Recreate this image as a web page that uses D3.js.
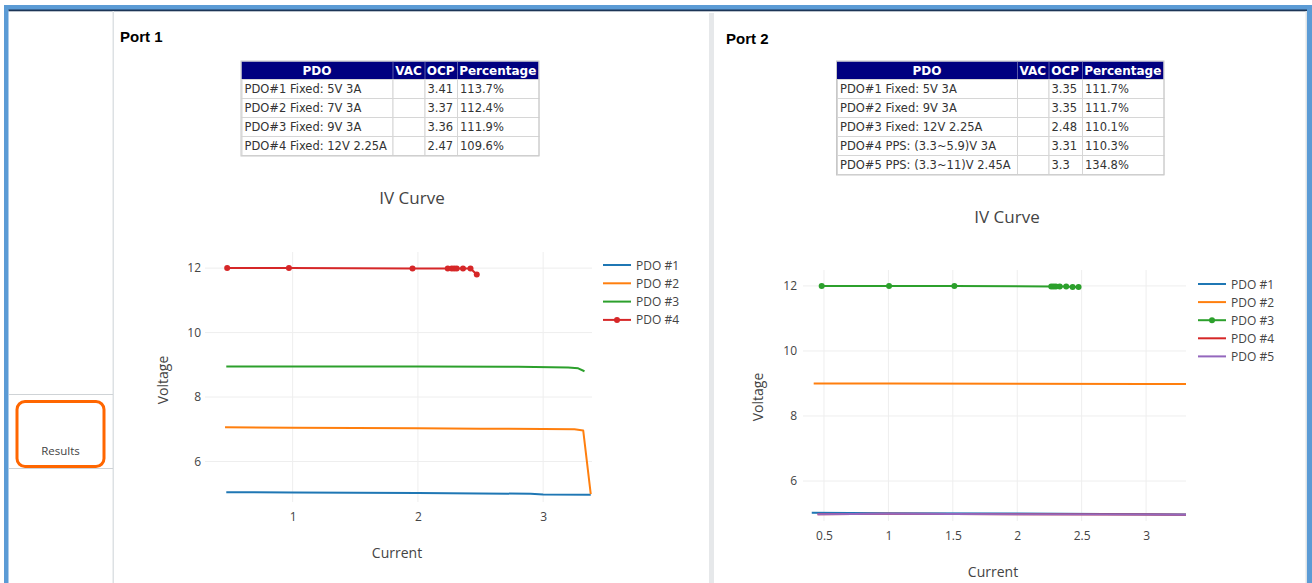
<!DOCTYPE html>
<html><head><meta charset="utf-8">
<script src="https://cdn.jsdelivr.net/npm/d3@7"></script>
<style>html,body{margin:0;padding:0;background:#fff;overflow:hidden}</style>
</head><body>
<svg id="c" width="1312" height="583"></svg>
<script>
// ---------- DATA ----------
const tableHeaders = ["PDO", "VAC", "OCP", "Percentage"];
const port1Pdo = ["PDO#1 Fixed: 5V 3A", "PDO#2 Fixed: 7V 3A", "PDO#3 Fixed: 9V 3A", "PDO#4 Fixed: 12V 2.25A"];
const port1Vac = ["", "", "", ""];
const port1Ocp = ["3.41", "3.37", "3.36", "2.47"];
const port1Pct = ["113.7%", "112.4%", "111.9%", "109.6%"];
const port2Pdo = ["PDO#1 Fixed: 5V 3A", "PDO#2 Fixed: 9V 3A", "PDO#3 Fixed: 12V 2.25A", "PDO#4 PPS: (3.3~5.9)V 3A", "PDO#5 PPS: (3.3~11)V 2.45A"];
const port2Vac = ["", "", "", "", ""];
const port2Ocp = ["3.35", "3.35", "2.48", "3.31", "3.3"];
const port2Pct = ["111.7%", "111.7%", "110.1%", "110.3%", "134.8%"];

const seriesNames1 = ["PDO #1", "PDO #2", "PDO #3", "PDO #4"];
const seriesNames2 = ["PDO #1", "PDO #2", "PDO #3", "PDO #4", "PDO #5"];
const colors = ["#1f77b4", "#ff7f0e", "#2ca02c", "#d62728", "#9467bd"];

// Port 1 curves (Current A, Voltage V)
const p1s1I = [0.47, 1.0, 2.0, 2.9, 3.0, 3.38];
const p1s1V = [5.05, 5.04, 5.02, 5.0, 4.98, 4.97];
const p1s2I = [0.46, 1.0, 2.0, 2.5, 3.0, 3.25, 3.32, 3.38];
const p1s2V = [7.06, 7.05, 7.03, 7.02, 7.01, 7.0, 6.96, 4.99];
const p1s3I = [0.47, 1.0, 2.0, 2.8, 3.2, 3.28, 3.33];
const p1s3V = [8.95, 8.95, 8.95, 8.94, 8.92, 8.89, 8.8];
const p1s4I = [0.477, 0.97, 1.957, 2.238, 2.27, 2.29, 2.31, 2.36, 2.42, 2.47];
const p1s4V = [12.0, 12.0, 11.99, 11.99, 11.99, 11.99, 11.99, 11.99, 11.99, 11.8];

// Port 2 curves
const p2s1I = [0.405, 1.0, 2.0, 3.0, 3.31];
const p2s1V = [5.02, 5.01, 5.0, 4.98, 4.97];
const p2s2I = [0.42, 1.0, 2.0, 3.0, 3.31];
const p2s2V = [9.0, 9.0, 8.99, 8.98, 8.98];
const p2s3I = [0.482, 1.005, 1.512, 2.264, 2.282, 2.30, 2.33, 2.38, 2.43, 2.476];
const p2s3V = [12.0, 12.0, 12.0, 11.98, 11.98, 11.98, 11.98, 11.98, 11.97, 11.97];
const p2s4I = [0.45, 1.0, 2.0, 3.0, 3.31];
const p2s4V = [4.98, 4.99, 4.98, 4.97, 4.96];
const p2s5I = [0.45, 1.0, 2.0, 3.0, 3.31];
const p2s5V = [4.98, 4.99, 4.98, 4.97, 4.96];

const p1XTicks = [1, 2, 3];
const p1YTicks = [6, 8, 10, 12];
const p2XTicks = [0.5, 1, 1.5, 2, 2.5, 3];
const p2YTicks = [6, 8, 10, 12];

// ---------- FRAME ----------
const svg = d3.select("#c");
const FONT = "'Open Sans', sans-serif";
svg.append("rect").attr("x", 4).attr("y", 5).attr("width", 1308).attr("height", 578).attr("fill", "#5b9bd5");
svg.append("rect").attr("x", 8.5).attr("y", 10).attr("width", 1298.5).attr("height", 573).attr("fill", "#fff");
svg.append("rect").attr("x", 8.5).attr("y", 9.5).attr("width", 1298.5).attr("height", 1.8).attr("fill", "#1c3556");
svg.append("rect").attr("x", 1305.5).attr("y", 11).attr("width", 1.5).attr("height", 572).attr("fill", "#dfe3e6");
// sidebar
svg.append("rect").attr("x", 112.5).attr("y", 11).attr("width", 1.5).attr("height", 572).attr("fill", "#dde1e4");
svg.append("line").attr("x1", 9).attr("x2", 113).attr("y1", 394.5).attr("y2", 394.5).attr("stroke", "#cfd3d6");
svg.append("line").attr("x1", 9).attr("x2", 113).attr("y1", 468.5).attr("y2", 468.5).attr("stroke", "#cfd3d6");
svg.append("rect").attr("x", 17).attr("y", 401.5).attr("width", 87).attr("height", 65).attr("rx", 8)
  .attr("fill", "none").attr("stroke", "#ff6600").attr("stroke-width", 3);
svg.append("text").attr("x", 60.5).attr("y", 455).attr("text-anchor", "middle")
  .attr("font-family", FONT).attr("font-size", 11.5).attr("fill", "#444").text("Results");
// separator between ports
svg.append("rect").attr("x", 709).attr("y", 13).attr("width", 5).attr("height", 570).attr("fill", "#e6e8ea");

// Port titles
svg.append("text").attr("x", 120).attr("y", 42).attr("font-family", "'Liberation Sans', Arial, sans-serif")
  .attr("font-weight", "bold").attr("font-size", 15).attr("fill", "#000").text("Port 1");
svg.append("text").attr("x", 726).attr("y", 44).attr("font-family", "'Liberation Sans', Arial, sans-serif")
  .attr("font-weight", "bold").attr("font-size", 15).attr("fill", "#000").text("Port 2");

// ---------- TABLES ----------
function drawTable(colEdges, top, headerH, rowH, cols) {
  const g = svg.append("g");
  const nRows = cols[0].length;
  const tableW = colEdges[colEdges.length - 1] - colEdges[0];
  g.append("rect").attr("x", colEdges[0]).attr("y", top).attr("width", tableW).attr("height", headerH).attr("fill", "#000080");
  tableHeaders.forEach((h, i) => {
    g.append("text").attr("x", (colEdges[i] + colEdges[i + 1]) / 2).attr("y", top + headerH - 4.5)
      .attr("text-anchor", "middle").attr("font-family", "'DejaVu Sans', Verdana, sans-serif")
      .attr("font-weight", "bold").attr("font-size", 12).attr("fill", "#fff").text(h);
  });
  for (let i = 1; i < colEdges.length - 1; i++) {
    g.append("line").attr("x1", colEdges[i] + 0.5).attr("x2", colEdges[i] + 0.5).attr("y1", top).attr("y2", top + headerH)
      .attr("stroke", "#5a5aa8").attr("stroke-width", 1);
  }
  const bodyTop = top + headerH;
  for (let r = 0; r < nRows; r++) {
    const y0 = bodyTop + r * rowH;
    for (let c = 0; c < cols.length; c++) {
      g.append("rect").attr("x", colEdges[c] + 0.5).attr("y", y0 + 0.5)
        .attr("width", colEdges[c + 1] - colEdges[c]).attr("height", rowH)
        .attr("fill", "#fff").attr("stroke", "#d6d6d6").attr("stroke-width", 1);
      g.append("text").attr("x", colEdges[c] + 3).attr("y", y0 + rowH - 5)
        .attr("font-family", "'DejaVu Sans', Verdana, sans-serif").attr("font-size", 11.5)
        .attr("fill", "#333").text(cols[c][r]);
    }
  }
  g.append("rect").attr("x", colEdges[0] - 0.5).attr("y", top - 0.5).attr("width", tableW + 1)
    .attr("height", headerH + nRows * rowH + 1.5).attr("fill", "none").attr("stroke", "#c8c8c8");
}
drawTable([241.5, 392.5, 424.5, 457, 538.5], 61.5, 17.5, 19, [port1Pdo, port1Vac, port1Ocp, port1Pct]);
drawTable([837, 1017, 1048.5, 1082, 1163.5], 61.5, 17.5, 19, [port2Pdo, port2Vac, port2Ocp, port2Pct]);

// ---------- CHARTS ----------
function drawChart(opt) {
  const g = svg.append("g");
  const x = d3.scaleLinear().domain(opt.xDom).range([opt.left, opt.right]);
  const y = d3.scaleLinear().domain(opt.yDom).range([opt.bottom, opt.top]);
  // grid
  g.selectAll(".gx").data(opt.xTicks).enter().append("line")
    .attr("x1", d => x(d)).attr("x2", d => x(d)).attr("y1", opt.top).attr("y2", opt.bottom)
    .attr("stroke", "#eee").attr("stroke-width", 1);
  g.selectAll(".gy").data(opt.yTicks).enter().append("line")
    .attr("x1", opt.left).attr("x2", opt.right).attr("y1", d => y(d)).attr("y2", d => y(d))
    .attr("stroke", "#eee").attr("stroke-width", 1);
  // axes (d3 axes, lines hidden like plotly)
  const ax = g.append("g").attr("transform", `translate(0,${opt.bottom})`)
    .call(d3.axisBottom(x).tickValues(opt.xTicks).tickSize(0).tickPadding(opt.xPad).tickFormat(d3.format("")));
  const ay = g.append("g").attr("transform", `translate(${opt.left},0)`)
    .call(d3.axisLeft(y).tickValues(opt.yTicks).tickSize(0).tickPadding(opt.yPad).tickFormat(d3.format("")));
  [ax, ay].forEach(a => {
    a.select(".domain").remove();
    a.selectAll("text").attr("font-family", FONT).attr("font-size", 12).attr("fill", "#444");
  });
  // title & axis titles
  g.append("text").attr("x", opt.titleX).attr("y", opt.titleY).attr("text-anchor", "middle")
    .attr("font-family", FONT).attr("font-size", 17).attr("fill", "#444").text("IV Curve");
  g.append("text").attr("x", opt.xtX).attr("y", opt.xtY).attr("text-anchor", "middle")
    .attr("font-family", FONT).attr("font-size", 14).attr("fill", "#444").text("Current");
  g.append("text").attr("transform", `translate(${opt.ytX},${opt.ytY}) rotate(-90)`).attr("text-anchor", "middle")
    .attr("font-family", FONT).attr("font-size", 14).attr("fill", "#444").text("Voltage");
  // series
  const line = d3.line().x(d => x(d[0])).y(d => y(d[1]));
  opt.series.forEach((s, i) => {
    const pts = s.I.map((v, k) => [v, s.V[k]]);
    g.append("path").datum(pts).attr("d", line).attr("fill", "none")
      .attr("stroke", colors[i]).attr("stroke-width", 2).attr("stroke-linejoin", "round");
    if (s.markers) {
      g.selectAll(null).data(pts).enter().append("circle")
        .attr("cx", d => x(d[0])).attr("cy", d => y(d[1])).attr("r", 3).attr("fill", colors[i]);
    }
  });
  // legend
  opt.names.forEach((n, i) => {
    const ly = opt.legY + i * opt.legStep;
    g.append("line").attr("x1", opt.legX).attr("x2", opt.legX + 28).attr("y1", ly).attr("y2", ly)
      .attr("stroke", colors[i]).attr("stroke-width", 2);
    if (opt.series[i].markers) {
      g.append("circle").attr("cx", opt.legX + 14).attr("cy", ly).attr("r", 3).attr("fill", colors[i]);
    }
    g.append("text").attr("x", opt.legX + 33).attr("y", ly + 4.5).attr("font-family", FONT)
      .attr("font-size", 12).attr("fill", "#444").text(n);
  });
}

drawChart({
  xDom: [0.3, 3.39], yDom: [4.744, 12.5], left: 205, right: 592, top: 252, bottom: 502,
  xTicks: p1XTicks, yTicks: p1YTicks, xPad: 10, yPad: 4,
  titleX: 412, titleY: 204, xtX: 397, xtY: 558, ytX: 168, ytY: 380,
  names: seriesNames1, legX: 603, legY: 265, legStep: 18.3,
  series: [
    {I: p1s1I, V: p1s1V}, {I: p1s2I, V: p1s2V}, {I: p1s3I, V: p1s3V}, {I: p1s4I, V: p1s4V, markers: true}
  ]
});
drawChart({
  xDom: [0.337, 3.31], yDom: [4.77, 12.49], left: 803, right: 1186, top: 270, bottom: 521,
  xTicks: p2XTicks, yTicks: p2YTicks, xPad: 10, yPad: 6,
  titleX: 1007, titleY: 223, xtX: 993, xtY: 577, ytX: 763, ytY: 397,
  names: seriesNames2, legX: 1198, legY: 284, legStep: 18.1,
  series: [
    {I: p2s1I, V: p2s1V}, {I: p2s2I, V: p2s2V}, {I: p2s3I, V: p2s3V, markers: true},
    {I: p2s4I, V: p2s4V}, {I: p2s5I, V: p2s5V}
  ]
});
</script>
</body></html>
